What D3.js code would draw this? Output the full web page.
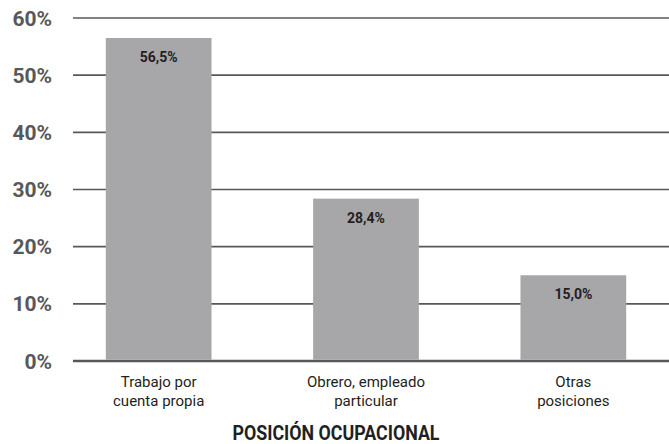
<!DOCTYPE html>
<html><head><meta charset="utf-8">
<script src="https://cdn.jsdelivr.net/npm/d3@7"></script>
<style>body{margin:0;background:#fff}svg{display:block}</style>
</head><body>
<svg id="c" width="669" height="444"></svg>
<script>
const categories = [["Trabajo por","cuenta propia"],["Obrero, empleado","particular"],["Otras","posiciones"]];
const values = [56.5, 28.4, 15.0];
const valueLabels = ["56,5%","28,4%","15,0%"];
const yTicks = [0,10,20,30,40,50,60];
const axisTitle = "POSICIÓN OCUPACIONAL";

const svg = d3.select("#c");
const y = d3.scaleLinear().domain([0,60]).range([361,18]);
const x = d3.scaleBand().domain(d3.range(values.length)).range([55,677]).paddingInner(0.49).paddingOuter(0.245);

svg.append("g").selectAll("line").data(yTicks).join("line")
  .attr("x1",73).attr("x2",669)
  .attr("y1",d=>y(d)).attr("y2",d=>y(d))
  .attr("stroke","#58585a").attr("stroke-width",d=>d===0?2.5:1.6);

svg.append("g").selectAll("text").data(yTicks).join("text")
  .attr("x",52).attr("y",d=>y(d)+7.5).attr("text-anchor","end")
  .attr("font-family","Roboto, sans-serif").attr("font-weight","bold").attr("font-size",21)
  .attr("fill","#58585a").text(d=>d+"%");

svg.append("g").selectAll("rect").data(values).join("rect")
  .attr("x",(d,i)=>x(i)).attr("width",x.bandwidth())
  .attr("y",d=>y(d)).attr("height",d=>y(0)-1.2-y(d))
  .attr("fill","#a7a7aa");

svg.append("g").selectAll("text").data(values).join("text")
  .attr("x",(d,i)=>x(i)+x.bandwidth()/2).attr("y",d=>y(d)+24)
  .attr("text-anchor","middle")
  .attr("font-family","Roboto, sans-serif").attr("font-weight","bold").attr("font-size",14)
  .attr("fill","#231f20").text((d,i)=>valueLabels[i]);

const xl = svg.append("g").selectAll("text").data(categories).join("text")
  .attr("text-anchor","middle")
  .attr("font-family","Roboto, sans-serif").attr("font-size",15).attr("fill","#231f20");
xl.each(function(d,i){
  d3.select(this).selectAll("tspan").data(d).join("tspan")
    .attr("x",x(i)+x.bandwidth()/2).attr("y",(t,j)=>387+j*19).text(t=>t);
});

svg.append("text").attr("x",336).attr("y",440).attr("text-anchor","middle")
  .attr("font-family","Roboto, sans-serif").attr("font-weight","bold").attr("font-size",20)
  .attr("textLength",207).attr("lengthAdjust","spacingAndGlyphs")
  .attr("fill","#231f20").text(axisTitle);
</script>
</body></html>
